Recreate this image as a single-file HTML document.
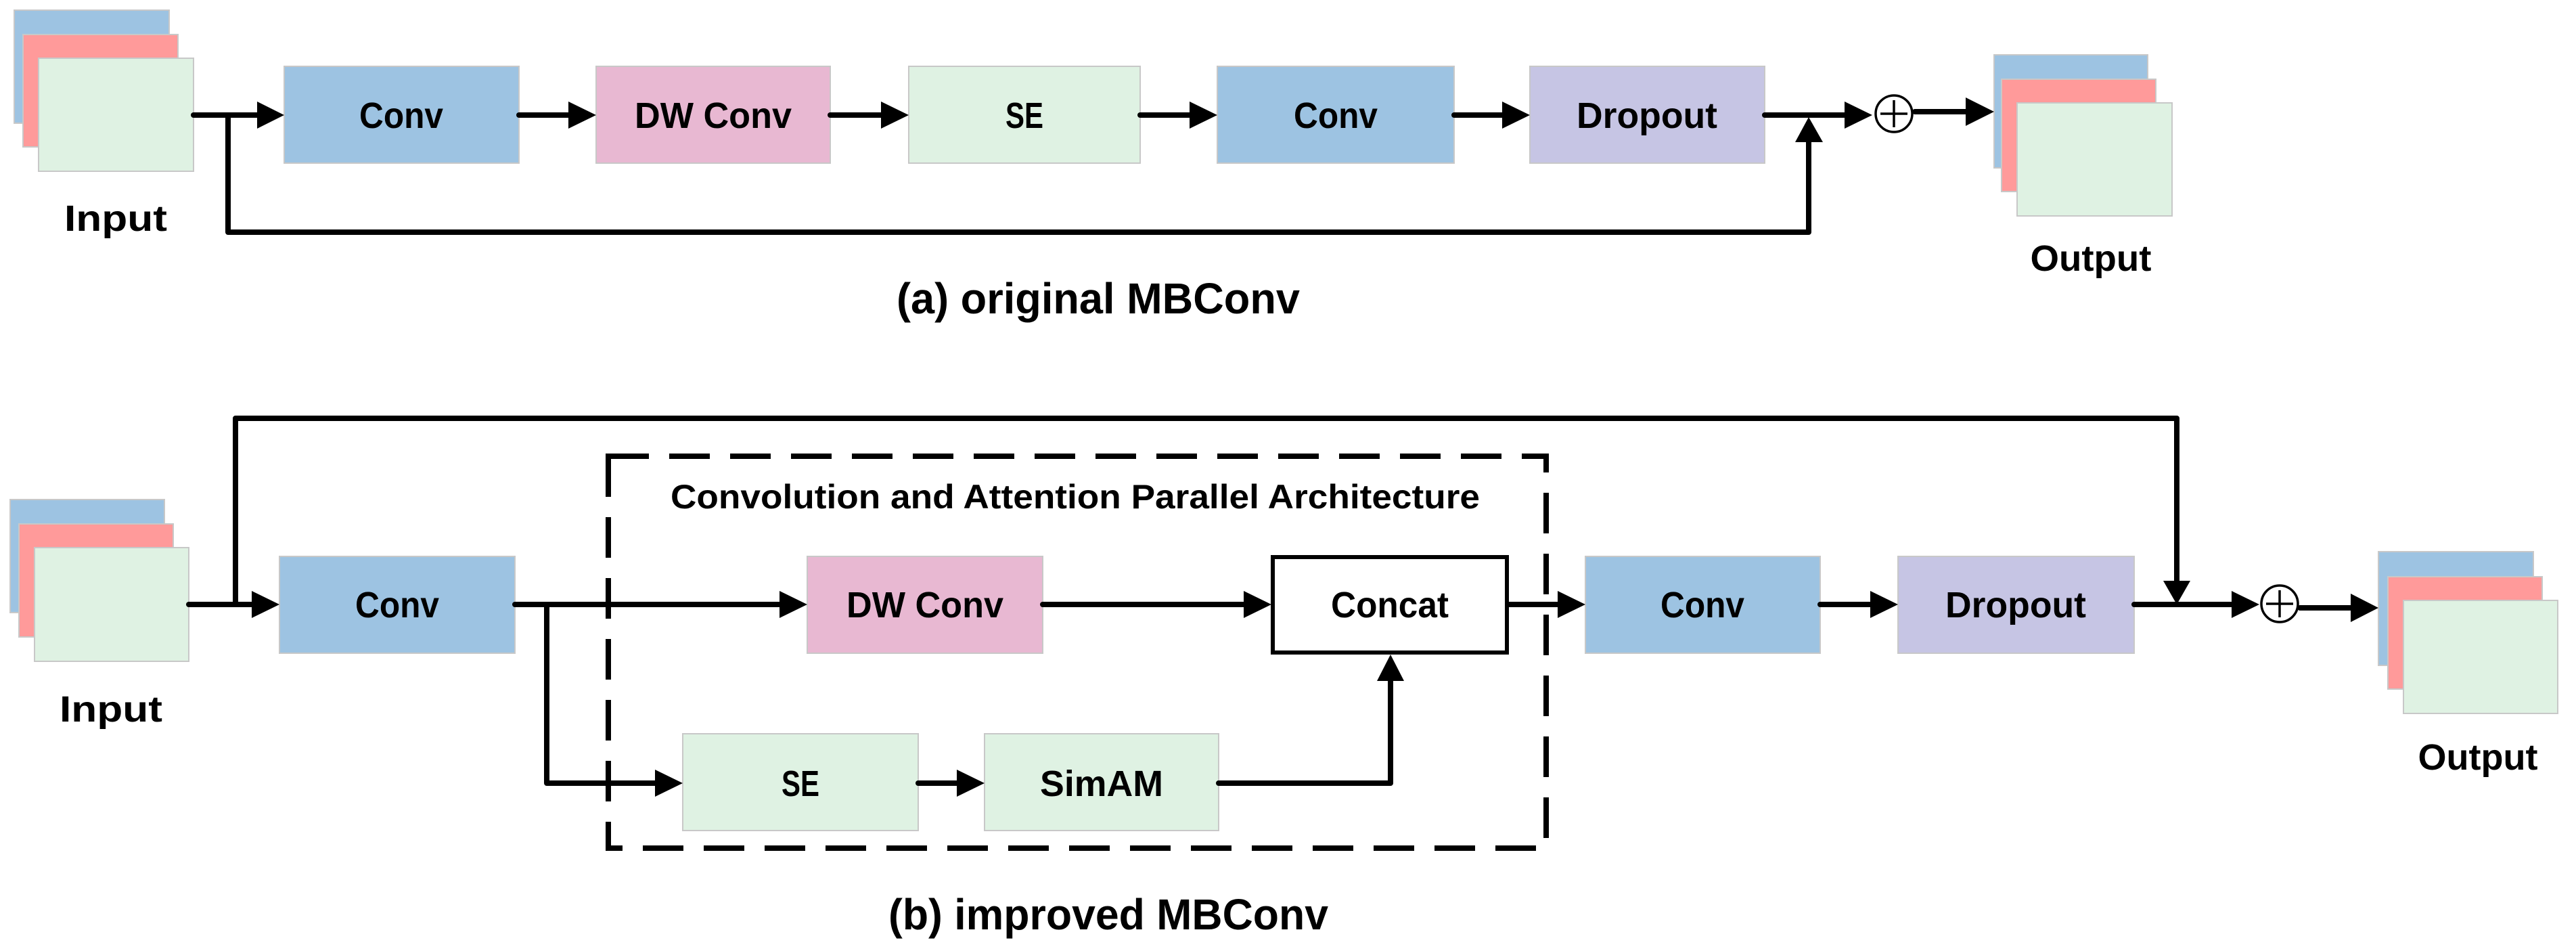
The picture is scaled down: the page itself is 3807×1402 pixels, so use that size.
<!DOCTYPE html>
<html><head><meta charset="utf-8"><style>html,body{margin:0;padding:0;background:#fff}svg{display:block}</style></head>
<body>
<svg width="3807" height="1402" viewBox="0 0 3807 1402" xmlns="http://www.w3.org/2000/svg" font-family="'Liberation Sans', sans-serif" font-weight="bold">
<g stroke="#c8c8c8" stroke-width="2">
<!-- input a -->
<rect x="21" y="15" width="229" height="167" fill="#9dc3e2"/>
<rect x="34" y="51" width="229" height="166" fill="#ff9a9a"/>
<rect x="57" y="86" width="229" height="167" fill="#dff2e3"/>
<!-- output a -->
<rect x="2947" y="81" width="227" height="167" fill="#9dc3e2"/>
<rect x="2958" y="117" width="228" height="166" fill="#ff9a9a"/>
<rect x="2981" y="152" width="229" height="167" fill="#dff2e3"/>
<!-- input b -->
<rect x="15" y="738" width="228" height="167" fill="#9dc3e2"/>
<rect x="28" y="774" width="228" height="167" fill="#ff9a9a"/>
<rect x="51" y="809" width="228" height="168" fill="#dff2e3"/>
<!-- output b -->
<rect x="3515" y="815" width="229" height="168" fill="#9dc3e2"/>
<rect x="3529" y="852" width="228" height="166" fill="#ff9a9a"/>
<rect x="3552" y="887" width="228" height="167" fill="#dff2e3"/>
<!-- boxes a -->
<rect x="420" y="98" width="347" height="143" fill="#9dc3e2"/>
<rect x="881" y="98" width="346" height="143" fill="#e8b8d2"/>
<rect x="1343" y="98" width="342" height="143" fill="#dff2e3"/>
<rect x="1799" y="98" width="350" height="143" fill="#9dc3e2"/>
<rect x="2261" y="98" width="347" height="143" fill="#c6c5e4"/>
<!-- boxes b -->
<rect x="413" y="822" width="348" height="143" fill="#9dc3e2"/>
<rect x="1193" y="822" width="348" height="143" fill="#e8b8d2"/>
<rect x="1009" y="1084" width="348" height="143" fill="#dff2e3"/>
<rect x="1455" y="1084" width="346" height="143" fill="#dff2e3"/>
<rect x="2343" y="822" width="347" height="143" fill="#9dc3e2"/>
<rect x="2805" y="822" width="349" height="143" fill="#c6c5e4"/>
</g>
<rect x="1881" y="823" width="346" height="141" fill="#fff" stroke="#000" stroke-width="6"/>
<rect x="899" y="674" width="1386" height="579" fill="none" stroke="#000" stroke-width="8" stroke-dasharray="60 30"/>

<g stroke="#000" stroke-width="8" fill="none" stroke-linecap="round" stroke-linejoin="round">
<!-- part a -->
<path d="M286 170 H380"/><path d="M767 170 H840"/><path d="M1227 170 H1302"/><path d="M1685 170 H1758"/><path d="M2149 170 H2220"/>
<path d="M2608 170 H2727"/>
<path d="M337 170 V343 H2673 V210"/>
<path d="M2830 165 H2906"/>
<!-- part b -->
<path d="M279 893 H372"/>
<path d="M348 893 V618 H3217 V858"/>
<path d="M761 893 H1152"/>
<path d="M808 893 V1157 H968"/>
<path d="M1357 1157 H1414"/>
<path d="M1541 893 H1838"/>
<path d="M1801 1157 H2055 V1006"/>
<path d="M2230 893 H2302"/>
<path d="M2690 893 H2764"/>
<path d="M3154 893 H3298"/>
<path d="M3399 898 H3474"/>
</g>
<g fill="#000">
<polygon points="380,150 420,170 380,190"/>
<polygon points="840,150 881,170 840,190"/>
<polygon points="1302,150 1343,170 1302,190"/>
<polygon points="1758,150 1799,170 1758,190"/>
<polygon points="2220,150 2261,170 2220,190"/>
<polygon points="2653,210 2673,173 2694,210"/>
<polygon points="2726,150 2767,170 2726,190"/>
<polygon points="2905,144 2947,165 2905,186"/>
<polygon points="372,873 413,893 372,913"/>
<polygon points="1152,873 1193,893 1152,913"/>
<polygon points="968,1137 1009,1157 968,1177"/>
<polygon points="1414,1137 1455,1157 1414,1177"/>
<polygon points="1838,873 1879,893 1838,913"/>
<polygon points="2035,1006 2055,967 2075,1006"/>
<polygon points="2302,873 2343,893 2302,913"/>
<polygon points="2764,873 2805,893 2764,913"/>
<polygon points="3197,858 3217,893 3237,858"/>
<polygon points="3298,873 3339,893 3298,913"/>
<polygon points="3474,877 3515,898 3474,919"/>
</g>
<g fill="none" stroke="#000" stroke-width="3.5">
<circle cx="2799" cy="168" r="27"/><path d="M2779 168 H2819 M2799 148 V188"/>
<circle cx="3369" cy="892" r="27"/><path d="M3349 892 H3389 M3369 872 V912"/>
</g>

<g fill="#000" font-size="54" text-anchor="middle" lengthAdjust="spacingAndGlyphs">
<text x="593" y="189" textLength="124" lengthAdjust="spacingAndGlyphs">Conv</text>
<text x="1054" y="189" textLength="232" lengthAdjust="spacingAndGlyphs">DW Conv</text>
<text x="1514" y="189" textLength="56" lengthAdjust="spacingAndGlyphs">SE</text>
<text x="1974" y="189" textLength="124" lengthAdjust="spacingAndGlyphs">Conv</text>
<text x="2434" y="189" textLength="208" lengthAdjust="spacingAndGlyphs">Dropout</text>
<text x="171" y="341" textLength="152" lengthAdjust="spacingAndGlyphs">Input</text>
<text x="3090" y="400" textLength="179" lengthAdjust="spacingAndGlyphs">Output</text>
<text x="587" y="912" textLength="124" lengthAdjust="spacingAndGlyphs">Conv</text>
<text x="1367" y="912" textLength="232" lengthAdjust="spacingAndGlyphs">DW Conv</text>
<text x="2054" y="912" textLength="174" lengthAdjust="spacingAndGlyphs">Concat</text>
<text x="2516" y="912" textLength="124" lengthAdjust="spacingAndGlyphs">Conv</text>
<text x="2979" y="912" textLength="208" lengthAdjust="spacingAndGlyphs">Dropout</text>
<text x="1183" y="1176" textLength="56" lengthAdjust="spacingAndGlyphs">SE</text>
<text x="1628" y="1176" textLength="182" lengthAdjust="spacingAndGlyphs">SimAM</text>
<text x="164" y="1066" textLength="152" lengthAdjust="spacingAndGlyphs">Input</text>
<text x="3662" y="1137" textLength="177" lengthAdjust="spacingAndGlyphs">Output</text>
<text x="1589" y="751" font-size="50" textLength="1196" lengthAdjust="spacingAndGlyphs">Convolution and Attention Parallel Architecture</text>
<text x="1623" y="463" font-size="64" textLength="596" lengthAdjust="spacingAndGlyphs">(a) original  MBConv</text>
<text x="1638" y="1373" font-size="64" textLength="650" lengthAdjust="spacingAndGlyphs">(b) improved  MBConv</text>
</g>
</svg>
</body></html>
